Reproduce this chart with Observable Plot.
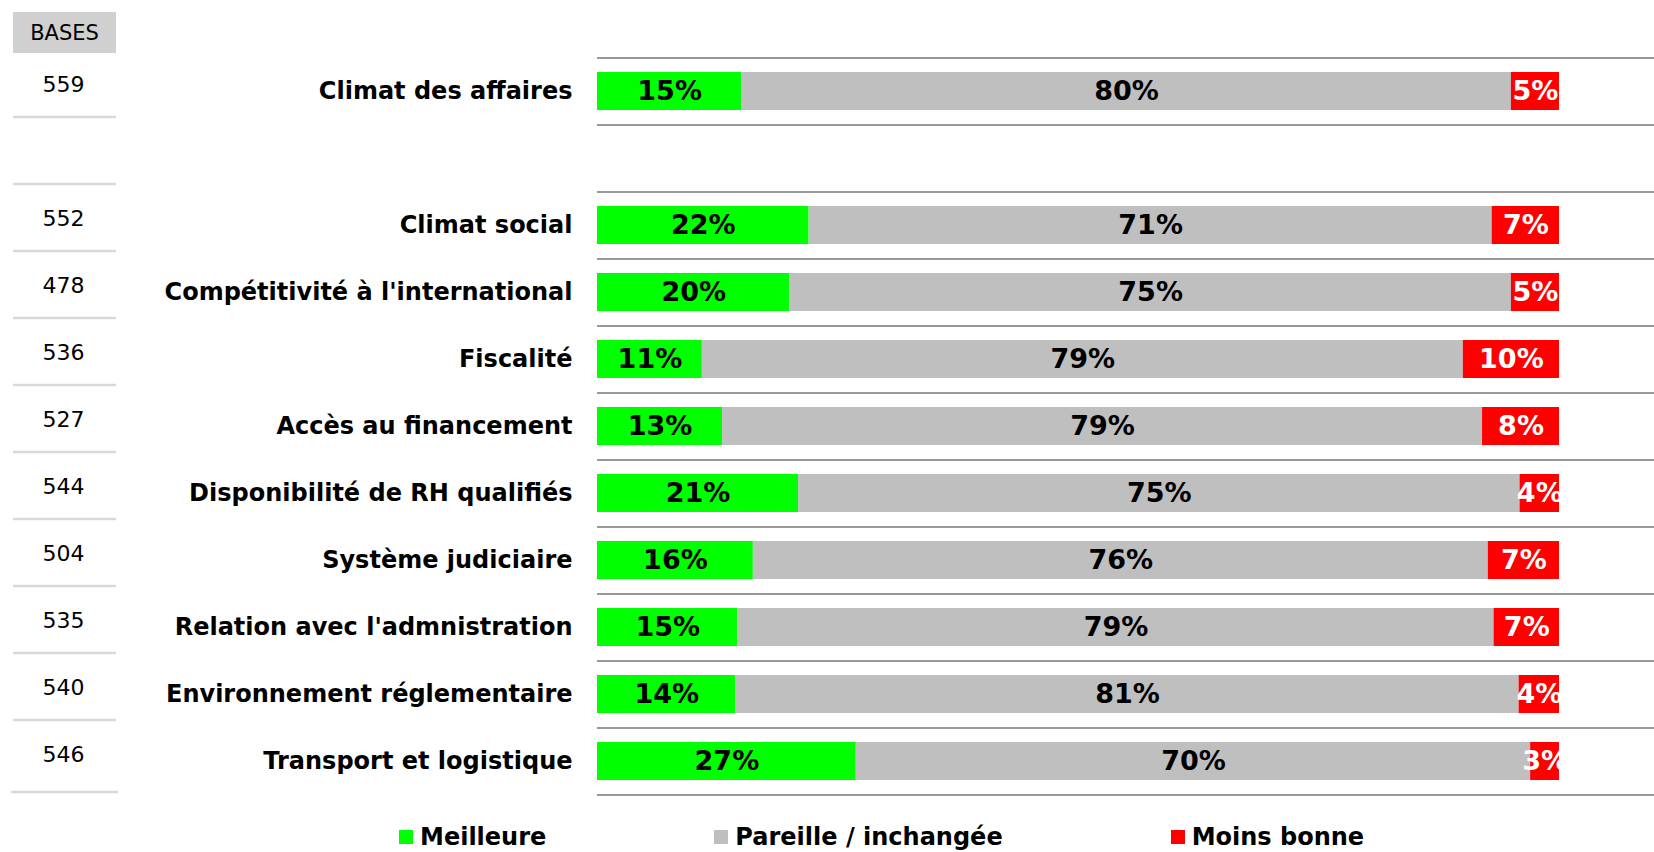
<!DOCTYPE html>
<html>
<head>
<meta charset="utf-8">
<script src="https://cdn.jsdelivr.net/npm/d3@7"></script>
<script src="https://cdn.jsdelivr.net/npm/@observablehq/plot@0.6"></script>
<style>
  body { margin: 0; background: #fff; font-family: "DejaVu Sans", sans-serif; }
  #wrap { position: relative; width: 1654px; height: 852px; overflow: hidden; }
  #bases { position: absolute; left: 13px; top: 12px; width: 103px; height: 41px; background: #d0d0d0;
           font-size: 21px; display: flex; align-items: center; justify-content: center; color: #000; }
  #legend { position: absolute; left: 399px; top: 823px; display: flex; gap: 168px; }
  .item { display: flex; align-items: center; gap: 7px; font-size: 24px; font-weight: bold; line-height: 28px; color: #000; }
  .sw { width: 14px; height: 14px; display: inline-block; }
</style>
</head>
<body>
<div id="wrap">
  <div id="chart"></div>
  <div id="bases">BASES</div>
  <div id="legend"></div>
</div>
<script>
// ---- data ----
const categories = [
  "Climat des affaires",
  "Climat social",
  "Compétitivité à l'international",
  "Fiscalité",
  "Accès au financement",
  "Disponibilité de RH qualifiés",
  "Système judiciaire",
  "Relation avec l'admnistration",
  "Environnement réglementaire",
  "Transport et logistique"
];
const bases     = [559, 552, 478, 536, 527, 544, 504, 535, 540, 546];
const meilleure = [15.0, 22.0, 20.0, 10.9, 13.0, 20.9, 16.2, 14.6, 14.4, 26.9];
const pareille  = [80.0, 71.0, 75.0, 79.1, 79.0, 75.0, 76.4, 78.6, 81.4, 70.1];
const moins     = [5.0, 7.0, 5.0, 10.0, 8.0, 4.1, 7.4, 6.8, 4.2, 3.0];
const series    = ["Meilleure", "Pareille / inchangée", "Moins bonne"];

// ---- styles ----
const seriesColors = ["#00ff00", "#bfbfbf", "#ff0000"];
const labelColors  = ["#000000", "#000000", "#ffffff"];

const values = [meilleure, pareille, moins];
const rows = categories.flatMap((c, i) => series.map((s, j) => ({
  category: c, series: s, value: values[j][i],
  fill: seriesColors[j], labelFill: labelColors[j]
})));
const baseRows = categories.map((c, i) => ({category: c, base: bases[i]}));

const SPACER = "\u00a0";
const slots = [categories[0], SPACER, ...categories.slice(1)];

const W = 1654, H = 800, ML = 597, MR = 95, MT = 57, MB = 6;
const step = (H - MT - MB) / slots.length;
const barFrac = 38 / step;
const toX = px => (px - ML) / (W - MR - ML) * 100;
const lineEnd = toX(W + 2);
const leftCol = [toX(13), toX(116)];

const chart = Plot.plot({
  width: W, height: H,
  marginLeft: ML, marginRight: MR, marginTop: MT, marginBottom: MB,
  style: {fontFamily: "DejaVu Sans", background: "white", color: "black"},
  x: {domain: [0, 100], axis: null},
  y: {domain: slots, paddingInner: 1 - barFrac, paddingOuter: (1 - barFrac) / 2, axis: null},
  color: {type: "identity"},
  marks: [
    // main separators
    Plot.ruleY(slots, {y: d => d, dy: -step / 2, x1: 0, x2: lineEnd, stroke: "#999999", strokeWidth: 2}),
    Plot.ruleY([slots[slots.length - 1]], {y: d => d, dy: step / 2, x1: 0, x2: lineEnd, stroke: "#999999", strokeWidth: 2}),
    // left column separators
    Plot.ruleY(slots.slice(1), {y: d => d, dy: -step / 2 - 8, x1: leftCol[0], x2: leftCol[1], stroke: "#d9d9d9", strokeWidth: 2.5}),
    Plot.ruleY([slots[slots.length - 1]], {y: d => d, dy: step / 2 - 3, x1: toX(11), x2: toX(118), stroke: "#d9d9d9", strokeWidth: 2.5}),
    // bars
    Plot.barX(rows, Plot.stackX({x: "value", y: "category", z: "series", order: series, fill: "fill"})),
    // value labels
    Plot.text(rows, Plot.stackX({
      x: "value", y: "category", z: "series", order: series,
      text: d => Math.round(d.value) + "%", fill: "labelFill",
      fontSize: 27, fontWeight: "bold", clip: true
    })),
    // category labels
    Plot.axisY({ticks: categories, tickSize: 0, tickPadding: 25, fontSize: 24, fontWeight: "bold", label: null}),
    // bases
    Plot.text(baseRows, {y: "category", text: "base", frameAnchor: "left", dx: 63 - ML, dy: -7,
      fontSize: 22, textAnchor: "middle", fill: "black"})
  ]
});
document.getElementById("chart").appendChild(chart);

// legend
const legend = document.getElementById("legend");
series.forEach((s, j) => {
  const item = document.createElement("div");
  item.className = "item";
  const sw = document.createElement("span");
  sw.className = "sw";
  sw.style.background = seriesColors[j];
  const t = document.createElement("span");
  t.textContent = s;
  item.appendChild(sw); item.appendChild(t);
  legend.appendChild(item);
});
</script>
</body>
</html>
